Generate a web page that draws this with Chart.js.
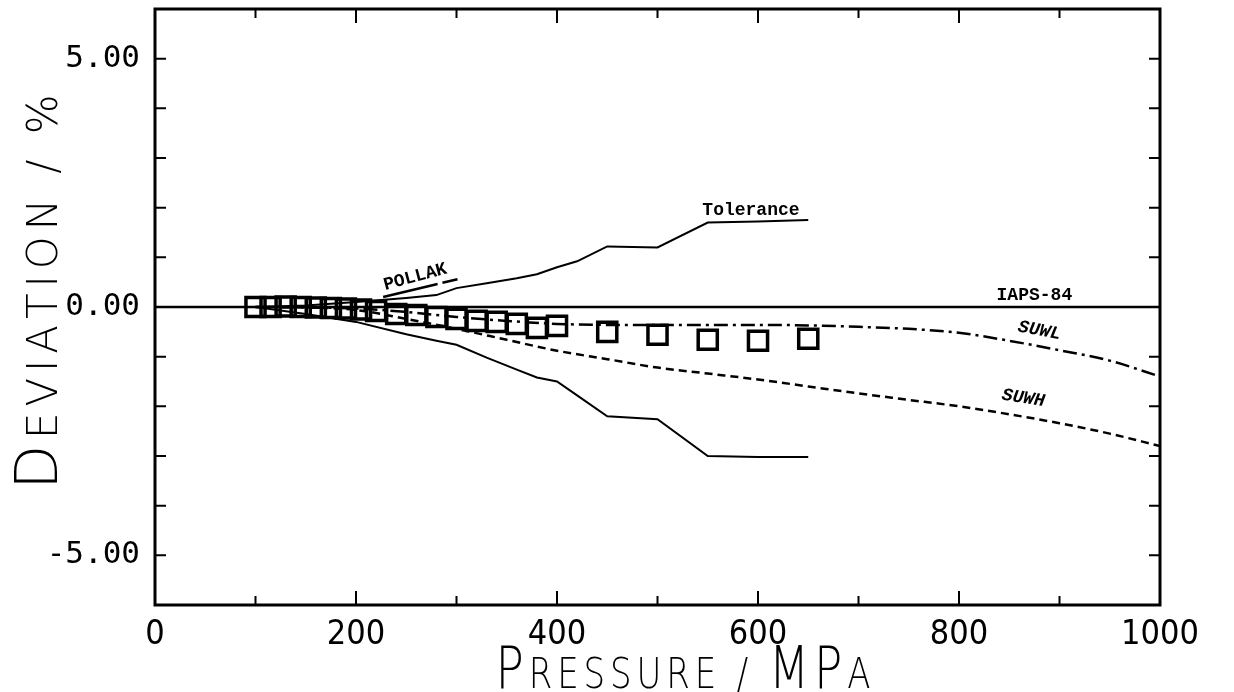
<!DOCTYPE html>
<html>
<head>
<meta charset="utf-8">
<script src="https://cdn.jsdelivr.net/npm/chart.js@4.4.1/dist/chart.umd.min.js"></script>
<style>
html, body { margin: 0; padding: 0; background: #fff; }
#wrap { width: 1234px; height: 692px; position: relative; }
</style>
</head>
<body>
<div id="wrap"><canvas id="chart"></canvas></div>
<script>
// measured points: pressure (MPa) and deviation (%)
const measP = [100, 115, 130, 145, 160, 175, 190, 205, 220, 240, 260, 280, 300, 320, 340, 360, 380, 400, 450, 500, 550, 600, 650];
const measDev = [0, 0, 0.01, 0, -0.01, -0.02, -0.03, -0.05, -0.08, -0.14, -0.16, -0.2, -0.24, -0.28, -0.3, -0.34, -0.42, -0.38, -0.5, -0.56, -0.66, -0.68, -0.64];

// IAPS-84 reference line
const iapsP = [0, 1000];
const iapsDev = [0, 0];

// tolerance band
const tolP = [100, 150, 200, 250, 280, 300, 330, 360, 380, 400, 420, 450, 500, 550, 600, 650];
const tolUpper = [0, 0.03, 0.1, 0.18, 0.24, 0.38, 0.48, 0.58, 0.66, 0.8, 0.92, 1.22, 1.2, 1.7, 1.72, 1.75];
const tolLower = [0, -0.14, -0.3, -0.55, -0.68, -0.76, -1.02, -1.26, -1.42, -1.5, -1.78, -2.2, -2.26, -3.0, -3.02, -3.02];

// POLLAK
const pollakP = [227, 301];
const pollakDev = [0.2, 0.56];

// SUWL / SUWH equations of state
const suwP = [100, 150, 200, 250, 300, 350, 400, 450, 500, 550, 600, 650, 700, 750, 800, 850, 900, 950, 1000];
const suwlDev = [0, -0.01, -0.03, -0.1, -0.2, -0.28, -0.34, -0.36, -0.36, -0.36, -0.36, -0.37, -0.4, -0.44, -0.52, -0.68, -0.87, -1.08, -1.4];
const suwhDev = [0, -0.01, -0.06, -0.24, -0.44, -0.66, -0.88, -1.05, -1.22, -1.34, -1.46, -1.6, -1.74, -1.87, -2.0, -2.16, -2.34, -2.55, -2.8];

// tick labels
const xTickLabels = [0, 200, 400, 600, 800, 1000];
const yTickLabels = [-5, 0, 5];

function pts(xs, ys) {
    return xs.map((x, i) => ({ x: x, y: ys[i] }));
}

function lineSet(xs, ys, width, dash, smooth) {
    return {
        data: pts(xs, ys),
        showLine: true,
        borderColor: '#000',
        borderWidth: width,
        borderDash: dash,
        pointRadius: 0,
        cubicInterpolationMode: smooth ? 'monotone' : 'default',
        tension: 0
    };
}

// frame and inward tick marks
const frameTicks = {
    id: 'frameTicks',
    afterDatasetsDraw(chart) {
        const { ctx, chartArea: a, scales: { x, y } } = chart;
        ctx.save();
        ctx.strokeStyle = '#000';
        ctx.lineWidth = 2;
        ctx.beginPath();
        x.ticks.forEach(t => {
            const px = x.getPixelForValue(t.value);
            const len = t.value % 200 === 0 ? 14 : 9;
            ctx.moveTo(px, a.bottom); ctx.lineTo(px, a.bottom - len);
            ctx.moveTo(px, a.top); ctx.lineTo(px, a.top + len);
        });
        y.ticks.forEach(t => {
            const py = y.getPixelForValue(t.value);
            ctx.moveTo(a.left, py); ctx.lineTo(a.left + 11, py);
            ctx.moveTo(a.right, py); ctx.lineTo(a.right - 11, py);
        });
        ctx.stroke();
        ctx.lineWidth = 3;
        ctx.strokeRect(a.left, a.top, a.right - a.left, a.bottom - a.top);
        ctx.restore();
    }
};

// curve names placed in data coordinates
const curveNames = [
    { text: 'Tolerance', p: 593, d: 1.94, angle: 0, italic: false },
    { text: 'POLLAK', p: 259, d: 0.6, angle: -15, italic: false },
    { text: 'IAPS-84', p: 875, d: 0.24, angle: 0, italic: false },
    { text: 'SUWL', p: 880, d: -0.48, angle: 11, italic: true },
    { text: 'SUWH', p: 864, d: -1.84, angle: 9, italic: true }
];

const curveLabels = {
    id: 'curveLabels',
    afterDatasetsDraw(chart) {
        const { ctx, scales: { x, y } } = chart;
        ctx.save();
        ctx.fillStyle = '#000';
        ctx.textAlign = 'center';
        ctx.textBaseline = 'middle';
        curveNames.forEach(c => {
            ctx.save();
            ctx.translate(x.getPixelForValue(c.p), y.getPixelForValue(c.d));
            ctx.rotate(c.angle * Math.PI / 180);
            ctx.font = (c.italic ? 'italic ' : '') + 'bold 18px "Liberation Mono", "DejaVu Sans Mono", monospace';
            ctx.fillText(c.text, 0, 0);
            ctx.restore();
        });
        ctx.restore();
    }
};

// small-caps axis titles
const titleFont = '"DejaVu Sans", sans-serif';

function drawSmallCaps(ctx, str, big, small, spacing, targetWidth) {
    const parts = [...str].map(ch => ({
        ch: ch.toUpperCase(),
        size: ch !== ch.toLowerCase() ? big : small
    }));
    let total = 0;
    parts.forEach(p => {
        ctx.font = '200 ' + p.size + 'px ' + titleFont;
        p.w = ctx.measureText(p.ch).width;
        total += p.w + spacing;
    });
    total -= spacing;
    const k = targetWidth / total;
    ctx.scale(k, 1);
    let cx = -total / 2;
    parts.forEach(p => {
        ctx.font = '200 ' + p.size + 'px ' + titleFont;
        ctx.fillText(p.ch, cx, 0);
        cx += p.w + spacing;
    });
}

const axisTitles = {
    id: 'axisTitles',
    afterDraw(chart) {
        const ctx = chart.ctx;
        ctx.save();
        ctx.fillStyle = '#000';
        ctx.textAlign = 'left';
        ctx.textBaseline = 'alphabetic';
        ctx.save();
        ctx.translate(57, 292);
        ctx.rotate(-Math.PI / 2);
        drawSmallCaps(ctx, 'Deviation / %', 58, 42, 6, 395);
        ctx.restore();
        ctx.save();
        ctx.translate(683, 688);
        drawSmallCaps(ctx, 'Pressure / MPa', 58, 42, 6, 375);
        ctx.restore();
        ctx.restore();
    }
};

new Chart(document.getElementById('chart'), {
    type: 'scatter',
    data: {
        datasets: [
            lineSet(iapsP, iapsDev, 2.5, [], false),
            lineSet(tolP, tolUpper, 2, [], false),
            lineSet(tolP, tolLower, 2, [], false),
            lineSet(pollakP, pollakDev, 2.5, [56, 5], false),
            lineSet(suwP, suwlDev, 2.5, [14, 5, 3, 5], true),
            lineSet(suwP, suwhDev, 2.5, [8, 5], true),
            {
                data: pts(measP, measDev),
                showLine: false,
                pointStyle: 'rect',
                pointRadius: 13.5,
                borderWidth: 3.5,
                borderColor: '#000',
                backgroundColor: 'rgba(0,0,0,0)'
            }
        ]
    },
    options: {
        responsive: true,
        maintainAspectRatio: false,
        animation: false,
        events: [],
        layout: { autoPadding: false, padding: { top: 9, right: 74, left: 0, bottom: 0 } },
        plugins: {
            legend: { display: false },
            tooltip: { enabled: false }
        },
        scales: {
            x: {
                type: 'linear',
                min: 0,
                max: 1000,
                grid: { display: false, drawTicks: false },
                border: { display: false },
                afterFit(s) { s.height = 87; s.paddingLeft = 0; s.paddingRight = 0; },
                ticks: {
                    stepSize: 100,
                    autoSkip: false,
                    maxRotation: 0,
                    padding: 10,
                    color: '#000',
                    font: { family: '"Liberation Sans Narrow", "DejaVu Sans Condensed", sans-serif', size: 34 },
                    callback: v => xTickLabels.includes(v) ? String(v) : ''
                }
            },
            y: {
                type: 'linear',
                min: -6,
                max: 6,
                grid: { display: false, drawTicks: false },
                border: { display: false },
                afterFit(s) { s.width = 155; s.paddingTop = 0; s.paddingBottom = 0; },
                ticks: {
                    stepSize: 1,
                    autoSkip: false,
                    padding: 15,
                    color: '#000',
                    font: { family: '"DejaVu Sans Mono", monospace', size: 31 },
                    callback: v => yTickLabels.includes(v) ? v.toFixed(2) : ''
                }
            }
        }
    },
    plugins: [frameTicks, curveLabels, axisTitles]
});
</script>
</body>
</html>
